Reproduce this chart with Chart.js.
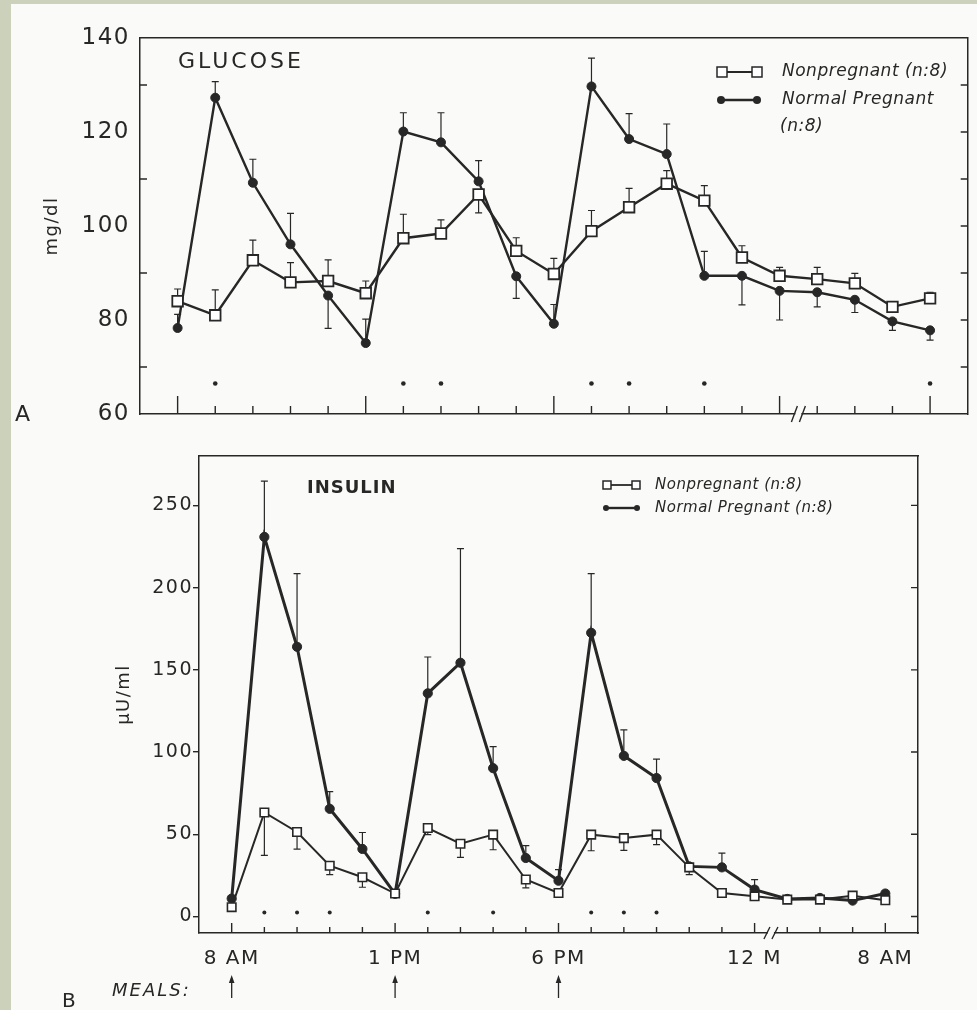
<!DOCTYPE html>
<html><head><meta charset="utf-8">
<script src="https://cdn.jsdelivr.net/npm/chart.js@4.4.0/dist/chart.umd.min.js"></script>
<style>
html,body{margin:0;padding:0;background:#cbd1ba;}
#page{position:relative;width:977px;height:1010px;overflow:hidden;background:#cbd1ba;}
#paper{position:absolute;left:11px;top:4px;width:966px;height:1006px;background:#fafaf8;}
#c1{position:absolute;left:0;top:0;}
#c2{position:absolute;left:0;top:440px;}
</style></head><body>
<div id="page"><div id="paper"></div>
<canvas id="c1" width="977" height="440"></canvas>
<canvas id="c2" width="977" height="570"></canvas>
</div>
<script>
// ---------- data ----------
const timeLabels = ['8 AM','9 AM','10 AM','11 AM','12 N','1 PM','2 PM','3 PM','4 PM','5 PM','6 PM','7 PM','8 PM','9 PM','10 PM','11 PM','12 M','2 AM','4 AM','6 AM','8 AM'];
const shownTimeIdx = [0,5,10,16,20];
const mealIdx = [0,5,10];
const breakAt = 16.5;

const glucoseNonpregnant    = [84,81,92.7,88,88.3,85.7,97.4,98.4,106.7,94.7,89.8,98.9,104,109,105.4,93.3,89.4,88.7,87.8,82.8,84.6];
const glucoseNonpregnantErr = [86.6,86.4,97,92.2,92.8,88.3,102.5,101.3,102.8,97.5,93.1,103.3,108,111.8,108.6,95.8,91.2,91.2,89.9,null,85.9];
const glucosePregnant       = [78.3,127.3,109.2,96.1,85.2,75.1,120.1,117.8,109.5,89.3,79.2,129.7,118.5,115.3,89.4,89.4,86.2,85.9,84.3,79.7,77.8];
const glucosePregnantErr    = [81.2,130.7,114.2,102.7,78.2,80.2,124.1,124.1,113.9,84.6,83.3,135.7,123.9,121.7,94.6,83.2,80,82.8,81.6,77.8,75.7];
const glucoseSigIdx = [1,6,7,11,12,14,20];
const glucoseYTicks = [60,70,80,90,100,110,120,130,140];

const insulinNonpregnant    = [5.7,63.3,51.4,30.9,23.9,14,53.8,44.3,49.8,22.5,14.3,49.8,47.7,49.8,29.9,14.3,12.3,10.3,10.3,12.7,9.9];
const insulinNonpregnantErr = [null,37.2,41,25.5,17.8,null,49.8,36,40.6,17.4,null,40,40.2,43.7,25.5,null,null,null,null,null,null];
const insulinPregnant       = [10.9,230.8,164,65.5,41.1,13.8,135.7,154.3,90.2,35.6,21.8,172.5,97.7,84.2,30.5,29.9,16.4,10.7,11.3,9.7,14];
const insulinPregnantErr    = [null,264.7,208.5,76,51.1,null,157.8,223.7,103.3,43.1,28.5,208.5,113.5,95.7,null,38.6,22.5,null,null,null,null];
const insulinSigIdx = [1,2,3,6,8,11,12,13];
const insulinYTicks = [0,50,100,150,200,250];

const labelNP = 'Nonpregnant (n:8)';
const labelP  = 'Normal Pregnant (n:8)';

// ---------- helpers ----------
const INK = '#272727';
const FONT = "'DejaVu Sans', sans-serif";
Chart.defaults.font.family = FONT;
Chart.defaults.color = INK;
function pts(arr){ return arr.map((v,i)=>({x:i,y:v})); }

function drawErrors(chart, series, cap, lw){
  const {ctx, scales:{x, y}} = chart;
  ctx.save(); ctx.strokeStyle = INK; ctx.lineWidth = lw;
  ctx.beginPath();
  series.forEach(([vals, ends])=>{
    vals.forEach((v,i)=>{
      const e = ends[i]; if (e==null || v==null) return;
      const px = x.getPixelForValue(i), p0 = y.getPixelForValue(v), p1 = y.getPixelForValue(e);
      ctx.moveTo(px,p0); ctx.lineTo(px,p1);
      ctx.moveTo(px-cap,p1); ctx.lineTo(px+cap,p1);
    });
  });
  ctx.stroke(); ctx.restore();
}
function drawBreak(ctx, px, py, h){
  ctx.save();
  ctx.fillStyle = '#fafaf8'; ctx.fillRect(px-3, py-2, 6, 4);
  ctx.strokeStyle = INK; ctx.lineWidth = 1.4; ctx.beginPath();
  [-4,4].forEach(d=>{ ctx.moveTo(px+d-3, py+h); ctx.lineTo(px+d+3, py-h); });
  ctx.stroke(); ctx.restore();
}
function legendSymbol(ctx, x0, x1, y, kind, s, lw){
  ctx.save(); ctx.strokeStyle = INK; ctx.lineWidth = lw;
  ctx.beginPath(); ctx.moveTo(x0,y); ctx.lineTo(x1,y); ctx.stroke();
  [x0,x1].forEach(cx=>{
    ctx.beginPath();
    if (kind==='rect'){ ctx.rect(cx-s/2, y-s/2, s, s); ctx.fillStyle='#fff'; ctx.fill(); ctx.lineWidth=1.5; ctx.stroke(); }
    else { ctx.arc(cx, y, s/2, 0, Math.PI*2); ctx.fillStyle=INK; ctx.fill(); }
  });
  ctx.restore();
}
function innerTicks(chart, xLen, xLongLen, yLeftFn, yRightFn, len){
  const {ctx, chartArea:a, scales:{x, y}} = chart;
  ctx.save(); ctx.strokeStyle = INK; ctx.lineWidth = 1.4; ctx.beginPath();
  x.ticks.forEach(t=>{
    const px = x.getPixelForValue(t.value);
    const L = shownTimeIdx.includes(t.value) ? xLongLen : xLen;
    ctx.moveTo(px, a.bottom); ctx.lineTo(px, a.bottom - L);
  });
  y.ticks.forEach(t=>{
    const py = y.getPixelForValue(t.value);
    if (yLeftFn(t.value)) { ctx.moveTo(a.left, py); ctx.lineTo(a.left+len, py); }
    if (yRightFn(t.value)) { ctx.moveTo(a.right, py); ctx.lineTo(a.right-len, py); }
  });
  ctx.stroke(); ctx.restore();
}
function frameScales(){
  return {
    xTop: { type:'linear', position:'top', min:0, max:1, ticks:{display:false}, grid:{display:false, drawTicks:false},
            border:{display:true, color:INK, width:1.5}, afterFit: s=>{ s.height = 0; } },
    yRight: { type:'linear', position:'right', min:0, max:1, ticks:{display:false}, grid:{display:false, drawTicks:false},
            border:{display:true, color:INK, width:1.5}, afterFit: s=>{ s.width = 0; } }
  };
}

// ---------- A: glucose ----------
const glucoseDeco = {
  id:'glucoseDeco',
  beforeDraw(chart){ chart.ctx.letterSpacing = '1.5px'; },
  beforeDatasetsDraw(chart){
    drawErrors(chart, [[glucosePregnant, glucosePregnantErr],[glucoseNonpregnant, glucoseNonpregnantErr]], 3.5, 1.2);
  },
  afterDraw(chart){
    const {ctx, chartArea:a, scales:{x}} = chart;
    innerTicks(chart, 8, 18, v => v%20!==0, v => v>glucoseYTicks[0] && v<glucoseYTicks[glucoseYTicks.length-1], 7);
    drawBreak(ctx, x.getPixelForValue(breakAt), a.bottom, 8);
    ctx.save();
    ctx.fillStyle = INK; ctx.textAlign='left'; ctx.textBaseline='alphabetic';
    ctx.letterSpacing='3px'; ctx.font = "22px " + FONT;
    ctx.fillText('GLUCOSE', 178, 68);
    ctx.font = "22px " + FONT; ctx.letterSpacing='0px';
    ctx.fillText('A', 15, 421);
    ctx.font = "italic 17px " + FONT; ctx.letterSpacing='0.5px';
    legendSymbol(ctx, 722, 757, 72, 'rect', 10, 2);
    legendSymbol(ctx, 721, 757, 100, 'circle', 8, 2.4);
    ctx.textBaseline='middle';
    ctx.fillText(labelNP, 782, 72);
    ctx.fillText('Normal Pregnant', 782, 100);
    ctx.fillText('(n:8)', 780, 127);
    ctx.restore();
  }
};

new Chart(document.getElementById('c1'), {
  type:'line',
  data:{ datasets:[
    { label:labelP, data:pts(glucosePregnant), borderColor:INK, borderWidth:2.4, pointStyle:'circle', pointRadius:4.5,
      pointBackgroundColor:INK, pointBorderColor:INK, pointBorderWidth:1, order:2 },
    { label:labelNP, data:pts(glucoseNonpregnant), borderColor:INK, borderWidth:2.4, pointStyle:'rect', pointRadius:7.5,
      pointBackgroundColor:'#fff', pointBorderColor:INK, pointBorderWidth:1.8, order:1 },
    { type:'scatter', label:'p<0.05', data:glucoseSigIdx.map(i=>({x:i, y:66.5})), pointRadius:2.3,
      pointBackgroundColor:INK, pointBorderWidth:0, order:3 }
  ]},
  options:{
    responsive:false, animation:false, devicePixelRatio:1, events:[],
    layout:{ padding:{ left:0, top:38, right:8, bottom:0 } },
    plugins:{ legend:{display:false}, tooltip:{enabled:false} },
    scales:{
      x:{ type:'linear', min:-1, max:21, bounds:'data', position:'bottom',
          afterBuildTicks: s=>{ s.ticks = timeLabels.map((_,i)=>({value:i})); },
          ticks:{ display:false }, grid:{ display:false, drawTicks:false },
          border:{ display:true, color:INK, width:1.5 }, afterFit: s=>{ s.height = 26; } },
      y:{ type:'linear', min:60, max:140, bounds:'data', position:'left',
          afterBuildTicks: s=>{ s.ticks = glucoseYTicks.map(v=>({value:v})); },
          ticks:{ autoSkip:false, padding:10, color:INK, font:{size:23}, callback: v => v%20===0 ? String(v) : '' },
          grid:{ display:false, drawTicks:false },
          border:{ display:true, color:INK, width:1.5 },
          title:{ display:true, text:'mg/dl', color:INK, font:{size:18}, padding:{top:42, bottom:0} },
          afterFit: s=>{ s.width = 140; } },
      ...frameScales()
    }
  },
  plugins:[glucoseDeco]
});

// ---------- B: insulin ----------
const insulinDeco = {
  id:'insulinDeco',
  beforeDraw(chart){ chart.ctx.letterSpacing = '1.5px'; },
  beforeDatasetsDraw(chart){
    drawErrors(chart, [[insulinPregnant, insulinPregnantErr],[insulinNonpregnant, insulinNonpregnantErr]], 3.5, 1.2);
  },
  afterDraw(chart){
    const {ctx, chartArea:a, scales:{x}} = chart;
    innerTicks(chart, 6, 10, v => false, v => true, 7);
    drawBreak(ctx, x.getPixelForValue(breakAt), a.bottom, 6);
    ctx.save();
    ctx.fillStyle = INK; ctx.textAlign='left'; ctx.textBaseline='alphabetic';
    ctx.letterSpacing='1px'; ctx.font = "bold 18px " + FONT;
    ctx.fillText('INSULIN', 307, 53);
    ctx.letterSpacing='0px'; ctx.font = "20px " + FONT;
    ctx.fillText('B', 62, 567);
    ctx.letterSpacing='2px'; ctx.font = "italic 18px " + FONT;
    ctx.fillText('MEALS:', 112, 556);
    // meal arrows
    ctx.strokeStyle = INK; ctx.lineWidth = 1.3;
    mealIdx.forEach(i=>{
      const px = x.getPixelForValue(i);
      ctx.beginPath(); ctx.moveTo(px, 558); ctx.lineTo(px, 540); ctx.stroke();
      ctx.beginPath(); ctx.moveTo(px, 535); ctx.lineTo(px-2.8, 543); ctx.lineTo(px+2.8, 543); ctx.closePath(); ctx.fill();
    });
    // legend
    legendSymbol(ctx, 607, 636, 45, 'rect', 8, 1.8);
    legendSymbol(ctx, 606, 637, 68, 'circle', 6, 2.4);
    ctx.letterSpacing='0.5px'; ctx.font = "italic 15px " + FONT; ctx.textBaseline='middle';
    ctx.fillText(labelNP, 655, 45);
    ctx.fillText(labelP, 655, 68);
    ctx.restore();
  }
};

new Chart(document.getElementById('c2'), {
  type:'line',
  data:{ datasets:[
    { label:labelP, data:pts(insulinPregnant), borderColor:INK, borderWidth:3, pointStyle:'circle', pointRadius:4.6,
      pointBackgroundColor:INK, pointBorderColor:INK, pointBorderWidth:1, order:2 },
    { label:labelNP, data:pts(insulinNonpregnant), borderColor:INK, borderWidth:2, pointStyle:'rect', pointRadius:6,
      pointBackgroundColor:'#fff', pointBorderColor:INK, pointBorderWidth:1.6, order:1 },
    { type:'scatter', label:'p<0.05', data:insulinSigIdx.map(i=>({x:i, y:2.5})), pointRadius:2,
      pointBackgroundColor:INK, pointBorderWidth:0, order:3 }
  ]},
  options:{
    responsive:false, animation:false, devicePixelRatio:1, events:[],
    layout:{ padding:{ left:0, top:16, right:59, bottom:0 } },
    plugins:{ legend:{display:false}, tooltip:{enabled:false} },
    scales:{
      x:{ type:'linear', min:-1, max:21, bounds:'data', position:'bottom',
          afterBuildTicks: s=>{ s.ticks = timeLabels.map((_,i)=>({value:i})); },
          ticks:{ autoSkip:false, maxRotation:0, minRotation:0, padding:14, color:INK, font:{size:20},
                  callback: v => shownTimeIdx.includes(v) ? timeLabels[v] : '' },
          grid:{ display:false, drawTicks:false },
          border:{ display:true, color:INK, width:1.5 }, afterFit: s=>{ s.height = 77; } },
      y:{ type:'linear', min:-10, max:280, bounds:'data', position:'left',
          afterBuildTicks: s=>{ s.ticks = insulinYTicks.map(v=>({value:v})); },
          ticks:{ autoSkip:false, padding:0, color:INK, font:{size:19} },
          grid:{ display:true, drawOnChartArea:false, drawTicks:true, tickLength:6, color:INK, lineWidth:1.4 },
          border:{ display:true, color:INK, width:1.5 },
          title:{ display:true, text:'µU/ml', color:INK, font:{size:18}, padding:{top:114, bottom:0} },
          afterFit: s=>{ s.width = 199; } },
      ...frameScales()
    }
  },
  plugins:[insulinDeco]
});
</script>
</body></html>
